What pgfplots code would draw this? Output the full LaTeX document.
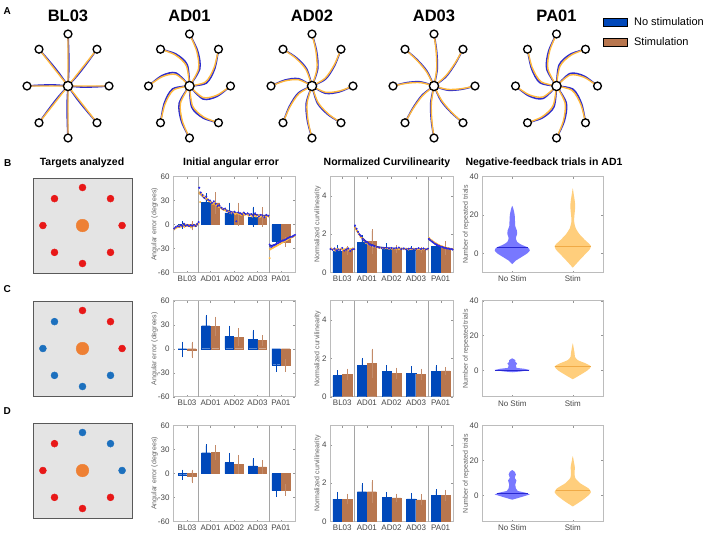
\documentclass[border=0pt]{standalone}
\usepackage{fontspec}
\setmainfont{Liberation Sans}
\usepackage{pgfplots}
\usepackage{pgfplotstable}
\pgfplotsset{compat=1.18}

\definecolor{barblue}{RGB}{0,72,186}
\definecolor{barbrown}{RGB}{184,118,78}
\definecolor{trblue}{RGB}{45,45,205}
\definecolor{trorange}{RGB}{255,184,60}
\definecolor{dotblue}{RGB}{40,40,230}
\definecolor{dotorange}{RGB}{255,185,70}
\definecolor{fitblue}{RGB}{25,25,150}
\definecolor{fitorange}{RGB}{250,170,40}
\definecolor{frame}{RGB}{188,188,188}
\definecolor{sep}{RGB}{165,165,165}
\definecolor{ticktext}{RGB}{70,70,70}
\definecolor{tgtred}{RGB}{232,24,24}
\definecolor{tgtblue}{RGB}{28,112,190}
\definecolor{tgtorange}{RGB}{238,128,52}
\definecolor{panelbg}{RGB}{228,228,228}
\definecolor{violblue}{RGB}{120,120,255}
\definecolor{violorange}{RGB}{255,206,124}
\definecolor{medblue}{RGB}{40,40,210}
\definecolor{medorange}{RGB}{240,170,70}

% eight targets on the unit circle
\pgfplotstableread{
x y
1 0
0.7071 0.7071
0 1
-0.7071 0.7071
-1 0
-0.7071 -0.7071
0 -1
0.7071 -0.7071
}\targets
\pgfplotstableread{
x y
0 1
0.7071 0.7071
1 0
}\upright
\pgfplotstableread{
x y
-0.7071 0.7071
-1 0
-0.7071 -0.7071
0 -1
0.7071 -0.7071
}\lowleft

\pgfplotsset{
  /pgf/number format/assume math mode=true,
  every axis/.append style={scale only axis, anchor=north west},
  star/.style={width=102.5pt, height=130pt, xmin=-1.25, xmax=1.25, ymin=-1.25, ymax=1.25,
    hide axis, clip=false, unbounded coords=jump,
    every axis title/.style={at={(0.5,1)}, anchor=base, yshift=-0.7pt, inner sep=0pt,
      font=\fontsize{16.5}{16.5}\selectfont\bfseries}},
  bluepath/.style={trblue, line width=1.6pt, smooth},
  orangepath/.style={trorange, line width=1.4pt, smooth},
  target/.style={only marks, mark=*, mark size=3.9pt, mark options={draw=black, fill=white, line width=1.35pt}},
  tgtpanel/.style={width=99pt, height=95pt, xmin=-1.25, xmax=1.25, ymin=-1.25, ymax=1.25,
    xtick=\empty, ytick=\empty, axis background/.style={fill=panelbg},
    axis line style={draw=black!65, line width=0.9pt}},
  chart/.style={height=96pt,
    axis line style={draw=frame, line width=0.6pt},
    tick style={draw=frame!80!black, line width=0.4pt},
    tick align=inside, major tick length=2pt,
    tick label style={font=\fontsize{8}{8.5}\selectfont, text=ticktext},
    every axis y label/.style={at={(axis description cs:#1,0.5)}, rotate=90, anchor=center,
      font=\fontsize{7}{8}\selectfont, text=ticktext!85}},
  angax/.style={chart=-0.152, width=122pt, xmin=0.4, xmax=5.6, ymin=-60, ymax=60,
    ytick={-60,-30,0,30,60}, xtick={1,2,3,4,5}, xticklabels={BL03,AD01,AD02,AD03,PA01},
    ylabel={Angular error (degrees)}},
  curvax/.style={chart=-0.102, width=123pt, xmin=0.5, xmax=5.5, ymin=0, ymax=5,
    ytick={0,2,4}, xtick={1,2,3,4,5}, xticklabels={BL03,AD01,AD02,AD03,PA01},
    ylabel={Normalized curvilinearity}},
  violax/.style={chart=-0.132, width=121pt, xmin=0.5, xmax=2.5,
    ytick={0,20,40}, xtick={1,2}, xticklabels={No Stim,Stim},
    ylabel={Number of repeated trials}},
  bblue/.style={ybar, bar width=0.37, bar shift=0pt, fill=barblue, draw=barblue,
    error bars/.cd, y dir=both, y explicit,
    error bar style={draw=barblue, line width=0.45pt},
    error mark options={draw=barblue, mark size=1.5pt}},
  bbrown/.style={ybar, bar width=0.37, bar shift=0pt, fill=barbrown, draw=barbrown,
    error bars/.cd, y dir=both, y explicit,
    error bar style={draw=barbrown!85, line width=0.45pt},
    error mark options={draw=barbrown!85, mark size=1.5pt}},
  seprule/.style={sep, line width=1.1pt},
  dotsb/.style={only marks, mark=*, mark size=0.8pt, dotblue},
  dotso/.style={only marks, mark=*, mark size=0.8pt, dotorange},
  fitb/.style={fitblue, line width=1.1pt, smooth},
  fito/.style={fitorange, line width=1.1pt, smooth},
}

\begin{document}
\begin{tikzpicture}
\useasboundingbox (0pt,0pt) rectangle (708pt,-535pt);

% ---------------- row A: trajectories ----------------
\begin{axis}[star, at={(16.75pt,-21pt)}, title={BL03}]
\addplot[bluepath] coordinates {
(0,0)(0.33,-0.02)(0.67,-0.016)(1,0)(nan,nan)
(0,0)(0.247,0.219)(0.485,0.463)(0.707,0.707)(nan,nan)
(0,0)(0.02,0.33)(0.016,0.67)(0,1)(nan,nan)
(0,0)(-0.219,0.247)(-0.463,0.485)(-0.707,0.707)(nan,nan)
(0,0)(-0.33,0.02)(-0.67,0.016)(-1,0)(nan,nan)
(0,0)(-0.247,-0.219)(-0.485,-0.463)(-0.707,-0.707)(nan,nan)
(0,0)(-0.02,-0.33)(-0.016,-0.67)(0,-1)(nan,nan)
(0,0)(0.219,-0.247)(0.463,-0.485)(0.707,-0.707)};
\addplot[orangepath] coordinates {
(0,0)(1,0)(nan,nan)(0,0)(0.707,0.707)(nan,nan)(0,0)(0,1)(nan,nan)(0,0)(-0.707,0.707)(nan,nan)
(0,0)(-1,0)(nan,nan)(0,0)(-0.707,-0.707)(nan,nan)(0,0)(0,-1)(nan,nan)(0,0)(0.707,-0.707)};
\addplot[target] table {\targets};
\addplot[target, mark size=4.6pt] coordinates {(0,0)};
\end{axis}

\begin{axis}[star, at={(138.25pt,-21pt)}, title={AD01}]
\addplot[bluepath] coordinates {
(0,0)(0.33,-0.25)(0.67,-0.2)(1,0)(nan,nan)
(0,0)(0.41,0.056)(0.615,0.333)(0.707,0.707)(nan,nan)
(0,0)(0.25,0.33)(0.2,0.67)(0,1)(nan,nan)
(0,0)(-0.056,0.41)(-0.333,0.615)(-0.707,0.707)(nan,nan)
(0,0)(-0.33,0.25)(-0.67,0.2)(-1,0)(nan,nan)
(0,0)(-0.41,-0.056)(-0.615,-0.333)(-0.707,-0.707)(nan,nan)
(0,0)(-0.25,-0.33)(-0.2,-0.67)(0,-1)(nan,nan)
(0,0)(0.056,-0.41)(0.333,-0.615)(0.707,-0.707)};
\addplot[orangepath] coordinates {
(0,0)(0.33,-0.22)(0.67,-0.176)(1,0)(nan,nan)
(0,0)(0.389,0.077)(0.598,0.35)(0.707,0.707)(nan,nan)
(0,0)(0.22,0.33)(0.176,0.67)(0,1)(nan,nan)
(0,0)(-0.077,0.389)(-0.35,0.598)(-0.707,0.707)(nan,nan)
(0,0)(-0.33,0.22)(-0.67,0.176)(-1,0)(nan,nan)
(0,0)(-0.389,-0.077)(-0.598,-0.35)(-0.707,-0.707)(nan,nan)
(0,0)(-0.22,-0.33)(-0.176,-0.67)(0,-1)(nan,nan)
(0,0)(0.077,-0.389)(0.35,-0.598)(0.707,-0.707)};
\addplot[target] table {\targets};
\addplot[target, mark size=4.6pt] coordinates {(0,0)};
\end{axis}

\begin{axis}[star, at={(260.75pt,-21pt)}, title={AD02}]
\addplot[bluepath] coordinates {
(0,0)(0.33,-0.14)(0.67,-0.112)(1,0)(nan,nan)
(0,0)(0.332,0.134)(0.553,0.395)(0.707,0.707)(nan,nan)
(0,0)(0.14,0.33)(0.112,0.67)(0,1)(nan,nan)
(0,0)(-0.134,0.332)(-0.395,0.553)(-0.707,0.707)(nan,nan)
(0,0)(-0.33,0.14)(-0.67,0.112)(-1,0)(nan,nan)
(0,0)(-0.332,-0.134)(-0.553,-0.395)(-0.707,-0.707)(nan,nan)
(0,0)(-0.14,-0.33)(-0.112,-0.67)(0,-1)(nan,nan)
(0,0)(0.134,-0.332)(0.395,-0.553)(0.707,-0.707)};
\addplot[orangepath] coordinates {
(0,0)(0.33,-0.12)(0.67,-0.096)(1,0)(nan,nan)
(0,0)(0.318,0.148)(0.542,0.406)(0.707,0.707)(nan,nan)
(0,0)(0.12,0.33)(0.096,0.67)(0,1)(nan,nan)
(0,0)(-0.148,0.318)(-0.406,0.542)(-0.707,0.707)(nan,nan)
(0,0)(-0.33,0.12)(-0.67,0.096)(-1,0)(nan,nan)
(0,0)(-0.318,-0.148)(-0.542,-0.406)(-0.707,-0.707)(nan,nan)
(0,0)(-0.12,-0.33)(-0.096,-0.67)(0,-1)(nan,nan)
(0,0)(0.148,-0.318)(0.406,-0.542)(0.707,-0.707)};
\addplot[target] table {\targets};
\addplot[target, mark size=4.6pt] coordinates {(0,0)};
\end{axis}

\begin{axis}[star, at={(382.75pt,-21pt)}, title={AD03}]
\addplot[bluepath] coordinates {
(0,0)(0.33,-0.08)(0.67,-0.064)(1,0)(nan,nan)
(0,0)(0.29,0.176)(0.519,0.429)(0.707,0.707)(nan,nan)
(0,0)(0.08,0.33)(0.064,0.67)(0,1)(nan,nan)
(0,0)(-0.176,0.29)(-0.429,0.519)(-0.707,0.707)(nan,nan)
(0,0)(-0.33,0.08)(-0.67,0.064)(-1,0)(nan,nan)
(0,0)(-0.29,-0.176)(-0.519,-0.429)(-0.707,-0.707)(nan,nan)
(0,0)(-0.08,-0.33)(-0.064,-0.67)(0,-1)(nan,nan)
(0,0)(0.176,-0.29)(0.429,-0.519)(0.707,-0.707)};
\addplot[orangepath] coordinates {
(0,0)(0.33,-0.065)(0.67,-0.052)(1,0)(nan,nan)
(0,0)(0.279,0.187)(0.511,0.437)(0.707,0.707)(nan,nan)
(0,0)(0.065,0.33)(0.052,0.67)(0,1)(nan,nan)
(0,0)(-0.187,0.279)(-0.437,0.511)(-0.707,0.707)(nan,nan)
(0,0)(-0.33,0.065)(-0.67,0.052)(-1,0)(nan,nan)
(0,0)(-0.279,-0.187)(-0.511,-0.437)(-0.707,-0.707)(nan,nan)
(0,0)(-0.065,-0.33)(-0.052,-0.67)(0,-1)(nan,nan)
(0,0)(0.187,-0.279)(0.437,-0.511)(0.707,-0.707)};
\addplot[target] table {\targets};
\addplot[target, mark size=4.6pt] coordinates {(0,0)};
\end{axis}

\begin{axis}[star, at={(505.25pt,-21pt)}, title={PA01},
  legend image code/.code={\fill[#1] (0pt,-4pt) rectangle (24pt,4pt);},
  legend cell align=left,
  legend style={draw=none, fill=none, inner sep=0pt, row sep=7pt,
    /tikz/every odd column/.append style={column sep=5pt},
    font=\fontsize{11}{11}\selectfont, at={(rel axis cs:0.949,1.045)}, anchor=north west}]
\addplot[bluepath, forget plot] coordinates {
(0,0)(0.33,0.24)(0.67,0.192)(1,0)(nan,nan)
(0,0)(0.063,0.403)(0.338,0.61)(0.707,0.707)(nan,nan)
(0,0)(-0.24,0.33)(-0.192,0.67)(0,1)(nan,nan)
(0,0)(-0.403,0.063)(-0.61,0.338)(-0.707,0.707)(nan,nan)
(0,0)(-0.33,-0.24)(-0.67,-0.192)(-1,0)(nan,nan)
(0,0)(-0.063,-0.403)(-0.338,-0.61)(-0.707,-0.707)(nan,nan)
(0,0)(0.24,-0.33)(0.192,-0.67)(0,-1)(nan,nan)
(0,0)(0.403,-0.063)(0.61,-0.338)(0.707,-0.707)};
\addplot[orangepath, forget plot] coordinates {
(0,0)(0.33,0.21)(0.67,0.168)(1,0)(nan,nan)
(0,0)(0.085,0.381)(0.355,0.593)(0.707,0.707)(nan,nan)
(0,0)(-0.21,0.33)(-0.168,0.67)(0,1)(nan,nan)
(0,0)(-0.381,0.085)(-0.593,0.355)(-0.707,0.707)(nan,nan)
(0,0)(-0.33,-0.21)(-0.67,-0.168)(-1,0)(nan,nan)
(0,0)(-0.085,-0.381)(-0.355,-0.593)(-0.707,-0.707)(nan,nan)
(0,0)(0.21,-0.33)(0.168,-0.67)(0,-1)(nan,nan)
(0,0)(0.381,-0.085)(0.593,-0.355)(0.707,-0.707)};
\addplot[target, forget plot] table {\targets};
\addplot[target, mark size=4.6pt, forget plot] coordinates {(0,0)};
\addlegendimage{fill=barblue}
\addlegendentry{No stimulation}
\addlegendimage{fill=barbrown}
\addlegendentry{Stimulation}
\end{axis}

% ---------------- panel letters and headings ----------------
\node[anchor=base west, inner sep=0pt, font=\fontsize{10}{10}\selectfont\bfseries] at (3.5pt,-15pt) {A};
\node[anchor=base west, inner sep=0pt, font=\fontsize{10}{10}\selectfont\bfseries] at (4pt,-166pt) {B};
\node[anchor=base west, inner sep=0pt, font=\fontsize{10}{10}\selectfont\bfseries] at (3.5pt,-292pt) {C};
\node[anchor=base west, inner sep=0pt, font=\fontsize{10}{10}\selectfont\bfseries] at (3.5pt,-414.5pt) {D};
\node[anchor=base, inner sep=0pt, font=\fontsize{10.5}{10.5}\selectfont\bfseries] at (82pt,-165.5pt) {Targets analyzed};
\node[anchor=base, inner sep=0pt, font=\fontsize{10.5}{10.5}\selectfont\bfseries] at (231pt,-165.5pt) {Initial angular error};
\node[anchor=base, inner sep=0pt, font=\fontsize{10.5}{10.5}\selectfont\bfseries] at (387pt,-165.5pt) {Normalized Curvilinearity};
\node[anchor=base, inner sep=0pt, font=\fontsize{10.5}{10.5}\selectfont\bfseries] at (544pt,-165.5pt) {Negative-feedback trials in AD1};

% ---------------- targets analyzed ----------------
\begin{axis}[tgtpanel, at={(33pt,-178pt)}]
\addplot[only marks, mark=*, mark size=3.5pt, tgtred] table {\targets};
\addplot[only marks, mark=*, mark size=6.3pt, tgtorange] coordinates {(0,0)};
\end{axis}
\begin{axis}[tgtpanel, at={(33pt,-301pt)}]
\addplot[only marks, mark=*, mark size=3.5pt, tgtred] table {\upright};
\addplot[only marks, mark=*, mark size=3.5pt, tgtblue] table {\lowleft};
\addplot[only marks, mark=*, mark size=6.3pt, tgtorange] coordinates {(0,0)};
\end{axis}
\begin{axis}[tgtpanel, at={(33pt,-423pt)}]
\addplot[only marks, mark=*, mark size=3.5pt, tgtblue] table {\upright};
\addplot[only marks, mark=*, mark size=3.5pt, tgtred] table {\lowleft};
\addplot[only marks, mark=*, mark size=6.3pt, tgtorange] coordinates {(0,0)};
\end{axis}

% ---------------- angular error ----------------
\begin{axis}[angax, at={(173pt,-176.5pt)}]
\addplot[seprule] coordinates {(1.5,-60)(1.5,60)};
\addplot[seprule] coordinates {(4.5,-60)(4.5,60)};
\addplot[bblue] coordinates {(0.8,-1) +- (0,3) (1.8,27.5) +- (0,9.5) (2.8,14.4) +- (0,11) (3.8,9.5) +- (0,11) (4.8,-20.6) +- (0,4)};
\addplot[bbrown] coordinates {(1.2,-1.5) +- (0,4) (2.2,27) +- (0,11.5) (3.2,13) +- (0,12.5) (4.2,9.5) +- (0,10.5) (5.2,-21.8) +- (0,4)};
\addplot[dotso] coordinates {
(0.46,-6)(0.53,-4)(0.6,-3)(0.67,-1.5)(0.74,-2.5)(0.81,-1)(0.88,-3)(0.95,0)(1.02,-2)(1.09,-1)(1.16,-3.5)(1.23,-1)(1.3,-2)(1.37,-0.5)(1.44,1)(1.49,1)
(1.53,40)(1.56,28)(1.62,38)(1.7,36)(1.78,33)(1.86,32)(1.94,29)(2.02,28)(2.1,26)(2.18,27)(2.26,24)(2.34,22)(2.42,21)(2.5,19)(2.58,18)(2.66,17)(2.74,16)(2.82,15)(2.9,14)(2.98,15)
(3.06,13)(3.14,14)(3.22,13)(3.3,12)(3.38,14)(3.46,12)(3.54,13)(3.62,11)(3.7,12)(3.78,10)(3.86,11)(3.94,10)(4.02,12)(4.1,9)(4.18,11)(4.26,10)(4.34,9)(4.42,11)(4.48,10)
(4.52,-42)(4.55,-31)(4.61,-30)(4.67,-29)(4.73,-28)(4.79,-27)(4.85,-26)(4.91,-25)(4.97,-24)(5.03,-23)(5.09,-22)(5.15,-21)(5.21,-20)(5.27,-19)(5.33,-18)(5.39,-17)(5.45,-16)(5.51,-15.5)(5.57,-14.5)};
\addplot[dotsb] coordinates {
(0.45,-5)(0.52,-3)(0.59,-2)(0.66,-2.5)(0.73,-1)(0.8,-2)(0.87,1)(0.94,-1.5)(1.01,-0.5)(1.08,-2)(1.15,-1)(1.22,-1.5)(1.29,-0.5)(1.36,-2)(1.43,0.5)(1.49,3)
(1.52,46)(1.58,40)(1.66,37)(1.74,33)(1.82,35)(1.9,31)(1.98,30)(2.06,27)(2.14,29)(2.22,26)(2.3,23)(2.38,24)(2.46,21)(2.54,19)(2.62,20)(2.7,17)(2.78,15)(2.86,16)(2.94,14)(3.02,16)
(3.1,4)(3.18,15)(3.26,14)(3.34,13)(3.42,15)(3.5,13)(3.58,14)(3.66,12)(3.74,13)(3.82,11)(3.9,14)(3.98,12)(4.06,10)(4.14,12)(4.22,11)(4.3,9)(4.38,12)(4.46,11)
(4.52,-25)(4.58,-28)(4.64,-27)(4.7,-26)(4.76,-25)(4.82,-24)(4.88,-23)(4.94,-22)(5.0,-21)(5.06,-20)(5.12,-20)(5.18,-19)(5.24,-18)(5.3,-17)(5.36,-16)(5.42,-15.5)(5.48,-15)(5.54,-14)(5.6,-13)};
\addplot[fitb] coordinates {(0.45,-4.5)(0.7,-2.5)(1.0,-1.5)(1.3,-1)(1.5,0)};
\addplot[fito] coordinates {(0.45,-5)(0.7,-3)(1.0,-1.8)(1.3,-1.2)(1.5,0.5)};
\addplot[fitb] coordinates {(1.5,40)(1.7,34)(2.0,28.5)(2.3,23.5)(2.6,19)(3.0,15)(3.5,13.5)(4.0,12)(4.5,11)};
\addplot[fito] coordinates {(1.5,39)(1.7,35)(2.0,28)(2.3,23)(2.6,18.5)(3.0,14.5)(3.5,12.5)(4.0,11)(4.5,10)};
\addplot[fitb] coordinates {(4.5,-27)(4.8,-24.5)(5.1,-20.5)(5.4,-16)(5.6,-13.5)};
\addplot[fito] coordinates {(4.5,-31)(4.8,-27)(5.1,-22)(5.4,-17)(5.6,-14)};
\end{axis}

\begin{axis}[angax, at={(173pt,-300.7pt)}]
\addplot[seprule] coordinates {(1.5,-60)(1.5,60)};
\addplot[seprule] coordinates {(4.5,-60)(4.5,60)};
\addplot[bblue] coordinates {(0.8,-1) +- (0,8) (1.8,28.7) +- (0,11.7) (2.8,15.4) +- (0,11.6) (3.8,12) +- (0,9.7) (4.8,-20) +- (0,7)};
\addplot[bbrown] coordinates {(1.2,-1.5) +- (0,8.5) (2.2,27.9) +- (0,10.4) (3.2,14.2) +- (0,9.5) (4.2,10.4) +- (0,5) (5.2,-20.8) +- (0,6.2)};
\end{axis}

\begin{axis}[angax, at={(173pt,-425.5pt)}]
\addplot[seprule] coordinates {(1.5,-60)(1.5,60)};
\addplot[seprule] coordinates {(4.5,-60)(4.5,60)};
\addplot[bblue] coordinates {(0.8,-1.5) +- (0,4.5) (1.8,26) +- (0,9) (2.8,13.6) +- (0,10.3) (3.8,9.5) +- (0,7.8) (4.8,-21.4) +- (0,6.2)};
\addplot[bbrown] coordinates {(1.2,-3.5) +- (0,6.5) (2.2,26.3) +- (0,7.4) (3.2,11.5) +- (0,9.9) (4.2,8.2) +- (0,6.6) (5.2,-20.6) +- (0,5.4)};
\end{axis}

% ---------------- curvilinearity ----------------
\begin{axis}[curvax, at={(330pt,-176.5pt)}]
\addplot[seprule] coordinates {(1.5,0)(1.5,5)};
\addplot[seprule] coordinates {(4.5,0)(4.5,5)};
\addplot[bblue] coordinates {(0.8,1.10) +- (0,0.26) (1.8,1.58) +- (0,0.27) (2.8,1.22) +- (0,0.23) (3.8,1.15) +- (0,0.15) (4.8,1.36) +- (0,0.12)};
\addplot[bbrown] coordinates {(1.2,1.15) +- (0,0.15) (2.2,1.61) +- (0,0.56) (3.2,1.22) +- (0,0.12) (4.2,1.17) +- (0,0.1) (5.2,1.27) +- (0,0.28)};
\addplot[dotso] coordinates {
(0.55,1.25)(0.63,1.2)(0.71,1.14)(0.79,1.22)(0.87,1.18)(0.95,1.24)(1.03,1.16)(1.11,1.21)(1.19,1.27)(1.27,1.17)(1.35,1.23)(1.43,1.26)(1.49,1.2)
(1.53,2.3)(1.6,2.15)(1.67,2.0)(1.74,1.85)(1.81,1.78)(1.88,1.65)(1.95,1.55)(2.02,1.5)(2.09,1.46)(2.16,1.4)(2.23,1.36)(2.3,1.33)(2.4,1.3)(2.5,1.28)(2.6,1.26)(2.7,1.25)(2.8,1.27)
(2.9,1.23)(3.0,1.25)(3.1,1.22)(3.2,1.24)(3.3,1.21)(3.4,1.25)(3.5,1.22)(3.6,1.24)(3.7,1.2)(3.8,1.22)(3.9,1.24)(4.0,1.2)(4.1,1.22)(4.2,1.19)(4.3,1.21)(4.4,1.23)(4.48,1.2)
(4.53,1.8)(4.59,1.72)(4.65,1.66)(4.71,1.6)(4.77,1.54)(4.83,1.5)(4.89,1.45)(4.95,1.41)(5.01,1.38)(5.07,1.35)(5.13,1.32)(5.19,1.3)(5.25,1.28)(5.31,1.26)(5.37,1.24)(5.43,1.23)(5.49,1.22)};
\addplot[dotsb] coordinates {
(0.52,1.22)(0.6,1.18)(0.68,1.25)(0.76,1.15)(0.84,1.2)(0.92,1.17)(1.0,1.28)(1.08,1.14)(1.16,1.2)(1.24,1.25)(1.32,1.12)(1.4,1.2)(1.48,1.22)
(1.52,2.45)(1.58,2.28)(1.64,2.12)(1.7,1.98)(1.76,1.9)(1.82,1.75)(1.88,1.68)(1.94,1.6)(2.0,1.58)(2.06,1.5)(2.12,1.45)(2.18,1.4)(2.24,1.42)(2.3,1.35)(2.4,1.32)(2.5,1.3)(2.6,1.28)
(2.7,1.27)(2.8,1.3)(2.9,1.25)(3.0,1.28)(3.1,1.24)(3.2,1.27)(3.3,1.3)(3.4,1.22)(3.5,1.25)(3.6,1.2)(3.7,1.24)(3.8,1.26)(3.9,1.2)(4.0,1.23)(4.1,1.27)(4.2,1.22)(4.3,1.25)(4.4,1.2)(4.48,1.24)
(4.52,1.75)(4.58,1.68)(4.64,1.62)(4.7,1.56)(4.76,1.5)(4.82,1.46)(4.88,1.42)(4.94,1.38)(5.0,1.35)(5.06,1.33)(5.12,1.3)(5.18,1.28)(5.24,1.26)(5.3,1.25)(5.36,1.23)(5.42,1.22)(5.48,1.2)};
\addplot[fitb] coordinates {(0.5,1.2)(1.0,1.2)(1.5,1.2)};
\addplot[fito] coordinates {(0.5,1.22)(1.0,1.21)(1.5,1.21)};
\addplot[fitb] coordinates {(1.5,2.4)(1.7,1.98)(1.9,1.7)(2.1,1.5)(2.4,1.35)(3.0,1.27)(4.5,1.22)};
\addplot[fito] coordinates {(1.5,2.35)(1.7,1.95)(1.9,1.65)(2.1,1.46)(2.4,1.31)(3.0,1.24)(4.5,1.21)};
\addplot[fitb] coordinates {(4.5,1.75)(4.8,1.47)(5.1,1.31)(5.5,1.2)};
\addplot[fito] coordinates {(4.5,1.8)(4.8,1.52)(5.1,1.34)(5.5,1.22)};
\end{axis}

\begin{axis}[curvax, at={(330pt,-300.7pt)}]
\addplot[seprule] coordinates {(1.5,0)(1.5,5)};
\addplot[seprule] coordinates {(4.5,0)(4.5,5)};
\addplot[bblue] coordinates {(0.8,1.10) +- (0,0.2) (1.8,1.62) +- (0,0.33) (2.8,1.32) +- (0,0.25) (3.8,1.22) +- (0,0.29) (4.8,1.32) +- (0,0.25)};
\addplot[bbrown] coordinates {(1.2,1.18) +- (0,0.21) (2.2,1.74) +- (0,0.69) (3.2,1.22) +- (0,0.22) (4.2,1.18) +- (0,0.21) (5.2,1.34) +- (0,0.14)};
\end{axis}

\begin{axis}[curvax, at={(330pt,-425.5pt)}]
\addplot[seprule] coordinates {(1.5,0)(1.5,5)};
\addplot[seprule] coordinates {(4.5,0)(4.5,5)};
\addplot[bblue] coordinates {(0.8,1.17) +- (0,0.29) (1.8,1.55) +- (0,0.36) (2.8,1.25) +- (0,0.21) (3.8,1.18) +- (0,0.23) (4.8,1.37) +- (0,0.23)};
\addplot[bbrown] coordinates {(1.2,1.17) +- (0,0.2) (2.2,1.55) +- (0,0.52) (3.2,1.23) +- (0,0.14) (4.2,1.13) +- (0,0.21) (5.2,1.37) +- (0,0.2)};
\end{axis}

% ---------------- violins ----------------
\begin{axis}[violax, at={(482pt,-176.5pt)}, ymin=-10, ymax=40]
\addplot[fill=violblue, draw=none, smooth, tension=0.4] coordinates {
(1,-5.7)(1.05,-4)(1.15,-2)(1.25,0)(1.29,1.5)(1.26,3)(1.15,4.5)(1.08,6)(1.06,8)(1.08,10)(1.075,12)(1.05,14)(1.045,17)(1.04,20)(1.02,23)(1,24.7)
(0.98,23)(0.96,20)(0.955,17)(0.95,14)(0.925,12)(0.92,10)(0.94,8)(0.92,6)(0.85,4.5)(0.74,3)(0.71,1.5)(0.75,0)(0.85,-2)(0.95,-4)(1,-5.7)};
\addplot[medblue, line width=0.8pt] coordinates {(0.74,3)(1.26,3)};
\addplot[fill=violorange, draw=none, smooth, tension=0.4] coordinates {
(2,-7.5)(2.1,-4)(2.22,0)(2.28,2)(2.3,3.8)(2.27,5)(2.2,7)(2.11,10)(2.05,13)(2.025,16)(2.025,19)(2.035,22)(2.04,25)(2.03,28)(2.015,31)(2,33.8)
(1.985,31)(1.97,28)(1.96,25)(1.965,22)(1.975,19)(1.975,16)(1.95,13)(1.89,10)(1.8,7)(1.73,5)(1.7,3.8)(1.72,2)(1.78,0)(1.9,-4)(2,-7.5)};
\addplot[medorange, line width=0.8pt] coordinates {(1.7,3.8)(2.3,3.8)};
\end{axis}

\begin{axis}[violax, at={(482pt,-300.7pt)}, ymin=-15, ymax=40]
\addplot[fill=violblue, draw=none] coordinates {
(1,-1)(1.15,-0.5)(1.29,0.3)(1.2,1)(1.07,1.5)(1.06,3)(1.08,4)(1.05,5)(1.05,6)(1,7)
(0.95,6)(0.95,5)(0.92,4)(0.94,3)(0.93,1.5)(0.8,1)(0.71,0.3)(0.85,-0.5)(1,-1)};
\addplot[medblue, line width=0.8pt] coordinates {(0.72,0.3)(1.28,0.3)};
\addplot[fill=violorange, draw=none, smooth, tension=0.4] coordinates {
(2,-5)(2.1,-3)(2.24,0)(2.3,2.3)(2.22,4)(2.08,6)(2.035,8)(2.03,10)(2.02,12)(2.01,14)(2,15.6)
(1.99,14)(1.98,12)(1.97,10)(1.965,8)(1.92,6)(1.78,4)(1.7,2.3)(1.76,0)(1.9,-3)(2,-5)};
\addplot[medorange, line width=0.8pt] coordinates {(1.7,2.3)(2.3,2.3)};
\end{axis}

\begin{axis}[violax, at={(482pt,-425.5pt)}, ymin=-15, ymax=40]
\addplot[fill=violblue, draw=none] coordinates {
(1,-2.5)(1.15,-1)(1.29,0.5)(1.22,1.5)(1.09,2.5)(1.06,4)(1.05,6)(1.06,7.5)(1.07,8.5)(1.04,10)(1.05,11)(1.06,12)(1.04,13.5)(1,14.5)
(0.96,13.5)(0.94,12)(0.95,11)(0.96,10)(0.93,8.5)(0.94,7.5)(0.95,6)(0.94,4)(0.91,2.5)(0.78,1.5)(0.71,0.5)(0.85,-1)(1,-2.5)};
\addplot[medblue, line width=0.8pt] coordinates {(0.74,1)(1.26,1)};
\addplot[fill=violorange, draw=none, smooth, tension=0.4] coordinates {
(2,-6.4)(2.15,-3)(2.26,0)(2.3,1.9)(2.26,4)(2.12,7)(2.04,10)(2.03,13)(2.035,16)(2.02,19)(2,22.4)
(1.98,19)(1.965,16)(1.97,13)(1.96,10)(1.88,7)(1.74,4)(1.7,1.9)(1.74,0)(1.85,-3)(2,-6.4)};
\addplot[medorange, line width=0.8pt] coordinates {(1.72,2.9)(2.28,2.9)};
\end{axis}

\end{tikzpicture}
\end{document}
